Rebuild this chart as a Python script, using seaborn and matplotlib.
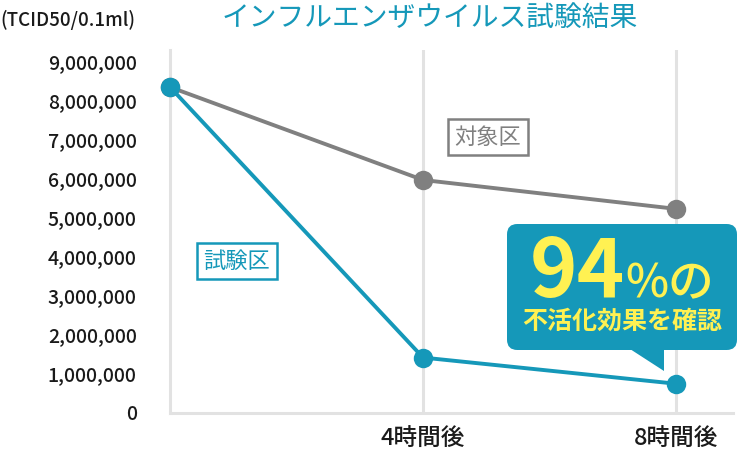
import pandas as pd
import matplotlib.pyplot as plt
import seaborn as sns
from matplotlib.patches import FancyBboxPatch, Polygon

# data
hours = [0, 4, 8]
test_values = [8350000, 1420000, 750000]
control_values = [8350000, 5970000, 5230000]
x_tick_pos = [4, 8]
x_tick_labels = ['4時間後', '8時間後']
y_ticks = list(range(0, 9000001, 1000000))

df = pd.DataFrame({
    'hour': hours * 2,
    'value': control_values + test_values,
    'group': ['対象区'] * 3 + ['試験区'] * 3,
})

sns.set_theme(style='white')
plt.rcParams['font.family'] = ['Noto Sans CJK JP', 'DejaVu Sans']

TEAL = '#1598b9'
GRAY = '#808080'
LIGHT = '#e2e2e2'
YELLOW = '#fff152'

W, H = 738, 454
fig = plt.figure(figsize=(W / 100, H / 100), dpi=100)
ax = fig.add_axes([170 / W, 1 - 413 / H, (733 - 170) / W, (413 - 50) / H])


def px(x, y):
    return x / W, 1 - y / H


sns.lineplot(data=df, x='hour', y='value', hue='group',
             palette={'対象区': GRAY, '試験区': TEAL},
             hue_order=['対象区', '試験区'],
             marker='o', markersize=14, markeredgewidth=0,
             linewidth=2.8, legend=False, ax=ax, clip_on=False, zorder=3)

ax.set_xlim(0, 8.9)
ax.set_ylim(0, 9300000)
ax.set_xticks(x_tick_pos)
ax.set_xticklabels(x_tick_labels, fontsize=17, fontweight='medium')
ax.set_yticks(y_ticks)
ax.set_yticklabels([f'{v:,}' for v in y_ticks], fontsize=14,
                   fontweight='medium')
ax.tick_params(axis='y', length=0, pad=24, colors='#1a1a1a')
ax.tick_params(axis='x', length=0, pad=11, colors='#1a1a1a')
ax.set_xlabel('')
ax.set_ylabel('')
ax.grid(axis='x', color=LIGHT, linewidth=2.2)
ax.grid(axis='y', visible=False)
for side in ['top', 'right']:
    ax.spines[side].set_visible(False)
for side in ['left', 'bottom']:
    ax.spines[side].set_color(LIGHT)
    ax.spines[side].set_linewidth(2.2)

# title and unit
fig.text(*px(430, 18), 'インフルエンザウイルス試験結果', color=TEAL,
         fontsize=20, ha='center', va='center')
fig.text(*px(0, 20), '(TCID50/0.1ml)', color='#1a1a1a',
         fontsize=13.5, fontweight='medium', ha='left', va='center')

# series labels
fig.text(*px(488, 137), '対象区', color=GRAY, fontsize=16,
         ha='center', va='center',
         bbox=dict(boxstyle='square,pad=0.28', fc='white', ec=GRAY, lw=1.8))
fig.text(*px(237, 261), '試験区', color=TEAL, fontsize=16,
         ha='center', va='center',
         bbox=dict(boxstyle='square,pad=0.28', fc='white', ec=TEAL, lw=1.8))

# callout
x0, y0 = px(507, 350)
x1, y1 = px(737, 224)
box = FancyBboxPatch((x0, y0), x1 - x0, y1 - y0,
                     boxstyle='round,pad=0,rounding_size=0.014',
                     transform=fig.transFigure, fc=TEAL, ec='none',
                     mutation_aspect=W / H, zorder=5)
fig.patches.append(box)
tail = Polygon([px(630, 349), px(664, 349), px(664, 371)], closed=True,
               transform=fig.transFigure, fc=TEAL, ec='none', zorder=5)
fig.patches.append(tail)

fig.text(*px(530, 297), '94', color=YELLOW, fontsize=58, fontweight='bold',
         ha='left', va='baseline', zorder=6)
fig.text(*px(625, 297), '%の', color=YELLOW, fontsize=33, fontweight='medium',
         ha='left', va='baseline', zorder=6)
fig.text(*px(622, 322), '不活化効果を確認', color=YELLOW, fontsize=18,
         fontweight='bold', ha='center', va='center', zorder=6)

fig.savefig('out.png', dpi=100)
